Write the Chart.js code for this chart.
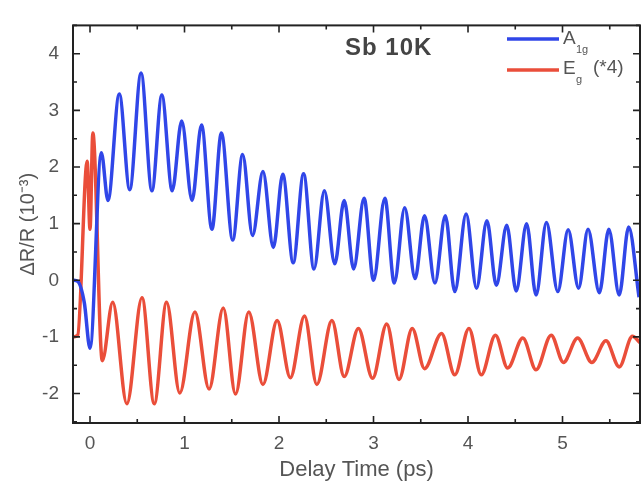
<!DOCTYPE html>
<html>
<head>
<meta charset="utf-8">
<script src="https://cdn.jsdelivr.net/npm/chart.js@4.4.1/dist/chart.umd.min.js"></script>
<style>
  html, body { margin: 0; padding: 0; background: #fff; }
  #wrap { width: 641px; height: 486px; position: relative; }
</style>
</head>
<body>
<div id="wrap"><canvas id="sbChart"></canvas></div>
<script>
'use strict';

// A1g trace: extrema (ps, 10^-3)
const a1gTime = [-0.18, -0.13, -0.06, 0.0, 0.12, 0.19, 0.31, 0.42, 0.54, 0.655, 0.76, 0.87, 0.97, 1.08, 1.18, 1.29,
  1.39, 1.51, 1.615, 1.72, 1.83, 1.94, 2.04, 2.15, 2.26, 2.37, 2.48, 2.59, 2.69, 2.79, 2.90, 3.00, 3.12, 3.22,
  3.33, 3.44, 3.54, 3.65, 3.76, 3.86, 3.98, 4.09, 4.20, 4.30, 4.41, 4.51, 4.62, 4.72, 4.83, 4.95, 5.06, 5.17,
  5.27, 5.39, 5.49, 5.60, 5.70, 5.81];
const a1gValue = [0.0, -0.02, -0.4, -1.2, 2.25, 1.41, 3.29, 1.60, 3.66, 1.58, 3.27, 1.58, 2.81, 1.41, 2.74, 0.90,
  2.60, 0.71, 2.22, 0.79, 1.92, 0.58, 1.87, 0.31, 1.88, 0.20, 1.58, 0.29, 1.41, 0.20, 1.45, 0.0, 1.45, -0.05,
  1.28, 0.03, 1.14, -0.05, 1.14, -0.20, 1.17, -0.14, 1.05, -0.09, 0.97, -0.19, 1.00, -0.26, 1.02, -0.20, 0.89, -0.14,
  0.90, -0.22, 0.90, -0.26, 0.94, -0.30];

// Eg trace (x4)
const egTime = [-0.18, -0.13, -0.03, 0.0, 0.03, 0.13, 0.24, 0.39, 0.55, 0.68, 0.81, 0.95, 1.11, 1.26, 1.41, 1.54,
  1.68, 1.83, 1.98, 2.12, 2.27, 2.40, 2.56, 2.69, 2.84, 2.99, 3.14, 3.27, 3.41, 3.54, 3.72, 3.86, 4.01, 4.14,
  4.29, 4.42, 4.58, 4.72, 4.88, 5.01, 5.16, 5.31, 5.46, 5.60, 5.74, 5.82];
const egValue = [-1.0, -0.97, 2.1, 0.9, 2.6, -1.42, -0.39, -2.18, -0.31, -2.18, -0.39, -1.99, -0.56, -1.92, -0.49, -2.01,
  -0.56, -1.84, -0.71, -1.72, -0.63, -1.84, -0.71, -1.70, -0.85, -1.73, -0.77, -1.75, -0.85, -1.56, -0.94, -1.67, -0.85, -1.67,
  -0.97, -1.55, -1.02, -1.58, -0.97, -1.45, -1.02, -1.45, -1.07, -1.53, -0.99, -1.1];

const xTickLabels = [0, 1, 2, 3, 4, 5];
const yTickLabels = [-2, -1, 0, 1, 2, 3, 4];

const blueColor = 'rgb(48, 70, 232)';
const redColor = 'rgb(234, 78, 58)';
const textColor = '#555555';
const fontFamily = '"Liberation Sans", Arial, sans-serif';

function toPoints(xs, ys) {
  return xs.map((x, i) => ({ x: x, y: ys[i] }));
}

// frame, inward ticks on all four sides, title and legend
const framePlugin = {
  id: 'frameAndLegend',
  afterDatasetsDraw(chart) {
    const { ctx, chartArea: a, scales: { x, y } } = chart;
    ctx.save();
    ctx.strokeStyle = '#222';
    ctx.lineWidth = 2;
    ctx.strokeRect(a.left, a.top, a.right - a.left, a.bottom - a.top);

    ctx.lineWidth = 1.6;
    ctx.beginPath();
    for (let v = 0; v <= 5.5; v += 0.5) {
      const px = x.getPixelForValue(v);
      const len = Number.isInteger(v) ? 7 : 4;
      ctx.moveTo(px, a.bottom); ctx.lineTo(px, a.bottom - len);
      ctx.moveTo(px, a.top); ctx.lineTo(px, a.top + len);
    }
    for (let v = -2.5; v <= 4.5; v += 0.5) {
      const py = y.getPixelForValue(v);
      const len = Number.isInteger(v) ? 7 : 4;
      ctx.moveTo(a.left, py); ctx.lineTo(a.left + len, py);
      ctx.moveTo(a.right, py); ctx.lineTo(a.right - len, py);
    }
    ctx.stroke();

    // sample label
    ctx.fillStyle = '#444';
    ctx.font = 'bold 24px ' + fontFamily;
    ctx.letterSpacing = '1px';
    ctx.textBaseline = 'middle';
    ctx.textAlign = 'left';
    ctx.fillText('Sb 10K', 345, 48);
    ctx.letterSpacing = '0px';

    // legend
    ctx.lineWidth = 3.5;
    ctx.strokeStyle = blueColor;
    ctx.beginPath(); ctx.moveTo(507, 39); ctx.lineTo(559, 39); ctx.stroke();
    ctx.strokeStyle = redColor;
    ctx.beginPath(); ctx.moveTo(507, 70); ctx.lineTo(559, 70); ctx.stroke();

    ctx.fillStyle = textColor;
    ctx.font = '19px ' + fontFamily;
    ctx.fillText('A', 563, 39);
    ctx.fillText('E', 563, 69);
    ctx.fillText('(*4)', 593, 68);
    ctx.font = '11px ' + fontFamily;
    ctx.fillText('1g', 576, 50);
    ctx.fillText('g', 576, 80);
    ctx.restore();
  }
};

const ctx = document.getElementById('sbChart').getContext('2d');

const sbChart = new Chart(ctx, {
  type: 'scatter',
  data: {
    datasets: [
      {
        label: 'A1g',
        data: toPoints(a1gTime, a1gValue),
        showLine: true,
        borderColor: blueColor,
        borderWidth: 3.5,
        pointRadius: 0,
        cubicInterpolationMode: 'monotone'
      },
      {
        label: 'Eg (*4)',
        data: toPoints(egTime, egValue),
        showLine: true,
        borderColor: redColor,
        borderWidth: 3.5,
        pointRadius: 0,
        cubicInterpolationMode: 'monotone'
      }
    ]
  },
  options: {
    responsive: true,
    maintainAspectRatio: false,
    animation: false,
    layout: { padding: { top: 10, right: 1, left: 0, bottom: 0 } },
    plugins: {
      legend: { display: false },
      tooltip: { enabled: false }
    },
    scales: {
      x: {
        type: 'linear',
        min: -0.18,
        max: 5.82,
        grid: { display: false, drawTicks: false },
        border: { display: false },
        afterBuildTicks: function (scale) {
          scale.ticks = xTickLabels.map(v => ({ value: v }));
        },
        afterFit: function (scale) {
          scale.height = 63;
        },
        ticks: {
          color: textColor,
          padding: 9,
          maxRotation: 0,
          font: { family: fontFamily, size: 19 }
        },
        title: {
          display: true,
          text: 'Delay Time (ps)',
          color: textColor,
          font: { family: fontFamily, size: 22 },
          padding: { top: 0, bottom: 3 }
        }
      },
      y: {
        type: 'linear',
        min: -2.52,
        max: 4.5,
        grid: { display: false, drawTicks: false },
        border: { display: false },
        afterBuildTicks: function (scale) {
          scale.ticks = yTickLabels.map(v => ({ value: v }));
        },
        afterFit: function (scale) {
          scale.width = 73;
        },
        ticks: {
          color: textColor,
          padding: 14,
          font: { family: fontFamily, size: 19 }
        },
        title: {
          display: true,
          text: 'ΔR/R (10⁻³)',
          color: textColor,
          font: { family: fontFamily, size: 20 },
          padding: { top: 16, bottom: 0 }
        }
      }
    }
  },
  plugins: [framePlugin]
});
</script>
</body>
</html>
